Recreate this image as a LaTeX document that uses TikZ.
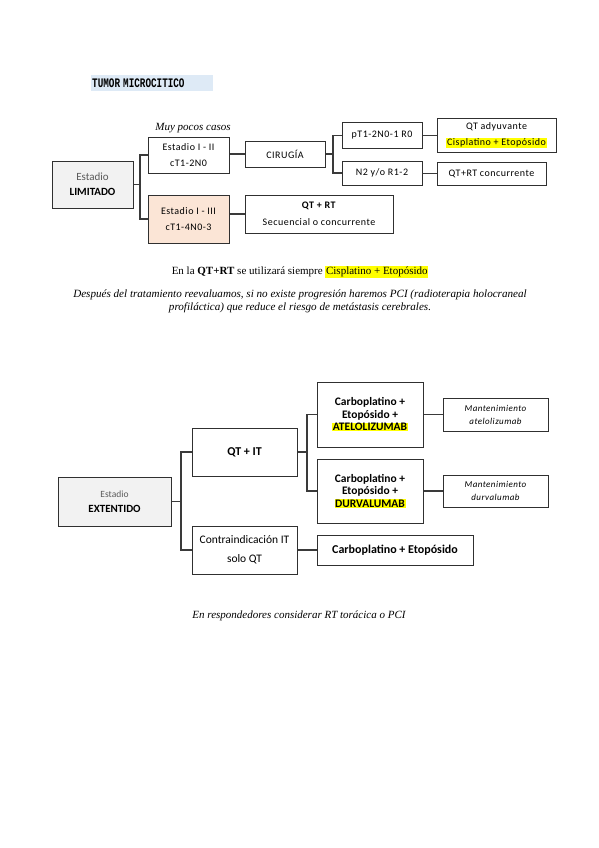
\documentclass[tikz,border=0pt]{standalone}
\usepackage{fontspec}
\setmainfont{Liberation Serif}
\newfontfamily\carl{Carlito}
\newfontfamily\carlsp[LetterSpace=5]{Carlito}
\newfontfamily\monob{Liberation Mono}
\definecolor{hlyellow}{HTML}{FFFF00}
\definecolor{peach}{HTML}{FBE5D6}
\definecolor{grayf}{HTML}{F2F2F2}
\definecolor{titlebg}{HTML}{DEEAF6}
\definecolor{boxc}{HTML}{303030}
\definecolor{linec}{HTML}{3A3A3A}
\definecolor{estg}{HTML}{595959}
\newcommand\yhl[1]{{\setlength{\fboxsep}{0.6pt}\colorbox{hlyellow}{#1}}}
\begin{document}
\begin{tikzpicture}[x=1pt,y=-1pt,
  box/.style={draw=boxc, line width=1pt, inner sep=0pt, align=center, text=black},
  topf/.style={font={\carlsp\fontsize{10}{16}\selectfont}},
  conn/.style={draw=linec, line width=1.4pt}]
\useasboundingbox[fill=white] (0,0) rectangle (599,848);

% title
\node[fill=titlebg, anchor=west, minimum width=122pt, minimum height=16pt, inner sep=0pt,
  text width=122pt, align=left, font={\monob\bfseries\fontsize{9.3}{11}\selectfont}] (title) at (91,83) {\hspace*{1pt}\scalebox{1}[1.4]{TUMOR MICROCITICO}};

% ---- estadio limitado ----
\node[font={\itshape\fontsize{11}{12}\selectfont}] (muy) at (193,128) {Muy pocos casos};
\node[box, fill=grayf, minimum width=81pt, minimum height=47pt, font={\carl\fontsize{11}{15}\selectfont}] (lim) at (92.5,184.5) {\textcolor{estg}{Estadio}\\\textbf{LIMITADO}};
\node[box, topf, minimum width=81pt, minimum height=36pt] (e12) at (188.5,155) {Estadio I - II\\cT1-2N0};
\node[box, topf, fill=peach, minimum width=81pt, minimum height=48pt] (e13) at (188.5,219) {Estadio I - III\\cT1-4N0-3};
\node[box, topf, minimum width=80pt, minimum height=26pt] (cir) at (285,154) {CIRUGÍA};
\node[box, topf, minimum width=148pt, minimum height=38pt, font={\carlsp\fontsize{10}{17}\selectfont}] (qtrt) at (319,214) {\textbf{QT + RT}\\Secuencial o concurrente};
\node[box, topf, minimum width=80pt, minimum height=25pt] (pt) at (382,135.5) {pT1-2N0-1 R0};
\node[box, topf, minimum width=80pt, minimum height=24pt] (n2) at (382,173) {N2 y/o R1-2};
\node[box, topf, minimum width=119pt, minimum height=33pt] (qtadj) at (496.5,135.5) {QT adyuvante\\\yhl{Cisplatino + Etopósido}};
\node[box, topf, minimum width=109pt, minimum height=23pt] (qtrtc) at (491.5,173.5) {QT+RT concurrente};

\coordinate (j1) at (140,184.5);
\coordinate (j2) at (333,154);
\draw[conn] (lim.east) -- (j1);
\draw[conn] (e12.west) -| (j1);
\draw[conn] (e13.west) -| (j1);
\draw[conn] (cir.west -| e12.east) -- (cir.west);
\draw[conn] (qtrt.west -| e13.east) -- (qtrt.west);
\draw[conn] (cir.east) -- (j2);
\draw[conn] (pt.west) -| (j2);
\draw[conn] (n2.west) -| (j2);
\draw[conn] (pt.east) -- (qtadj.west);
\draw[conn] (n2.east) -- (qtrtc.west -| n2.east) -- (qtrtc.west);

% notes
\node[font={\fontsize{11}{12}\selectfont}] (nota1) at (300,272) {En la \textbf{QT+RT} se utilizará siempre \yhl{Cisplatino + Etopósido}};
\node[align=center, font={\itshape\fontsize{11.1}{13}\selectfont}] (nota2) at (300,301.5) {Después del tratamiento reevaluamos, si no existe progresión haremos PCI (radioterapia holocraneal\\profiláctica) que reduce el riesgo de metástasis cerebrales.};

% ---- estadio extendido ----
\node[box, fill=grayf, minimum width=113pt, minimum height=49pt, font={\carl\fontsize{11}{15}\selectfont}] (ext) at (114.5,501.5) {\textcolor{estg}{\fontsize{9.5}{15}\selectfont Estadio}\\\textbf{EXTENTIDO}};
\node[box, minimum width=105pt, minimum height=48pt, font={\carl\bfseries\fontsize{12}{14}\selectfont}] (qtit) at (244.5,452) {QT + IT};
\node[box, minimum width=105pt, minimum height=48pt, font={\carl\fontsize{11.5}{19}\selectfont}] (contra) at (244.5,550) {Contraindicación IT\\solo QT};
\node[box, minimum width=106pt, minimum height=65pt, font={\carl\bfseries\fontsize{11.5}{12.5}\selectfont}] (atel) at (370,414.5) {Carboplatino +\\Etopósido +\\\yhl{ATELOLIZUMAB}};
\node[box, minimum width=106pt, minimum height=64pt, font={\carl\bfseries\fontsize{11.5}{12.5}\selectfont}] (durv) at (370,491) {Carboplatino +\\Etopósido +\\\yhl{DURVALUMAB}};
\node[box, minimum width=105pt, minimum height=33pt, font={\carlsp\itshape\fontsize{9}{13}\selectfont}] (manta) at (495.5,414.5) {Mantenimiento\\atelolizumab};
\node[box, minimum width=105pt, minimum height=32pt, font={\carlsp\itshape\fontsize{9}{13}\selectfont}] (mantd) at (495.5,491) {Mantenimiento\\durvalumab};
\node[box, minimum width=156pt, minimum height=30pt, font={\carl\bfseries\fontsize{12}{14}\selectfont}] (ce) at (395,550) {Carboplatino + Etopósido};

\coordinate (j3) at (181,501.5);
\coordinate (j4) at (307,452);
\draw[conn] (ext.east) -- (j3);
\draw[conn] (qtit.west) -| (j3);
\draw[conn] (contra.west) -| (j3);
\draw[conn] (qtit.east) -- (j4);
\draw[conn] (atel.west) -| (j4);
\draw[conn] (durv.west) -| (j4);
\draw[conn] (atel.east) -- (manta.west);
\draw[conn] (durv.east) -- (mantd.west);
\draw[conn] (contra.east) -- (ce.west);

\node[font={\itshape\fontsize{11}{12}\selectfont}] (nota3) at (299,616) {En respondedores considerar RT torácica o PCI};
\end{tikzpicture}
\end{document}
